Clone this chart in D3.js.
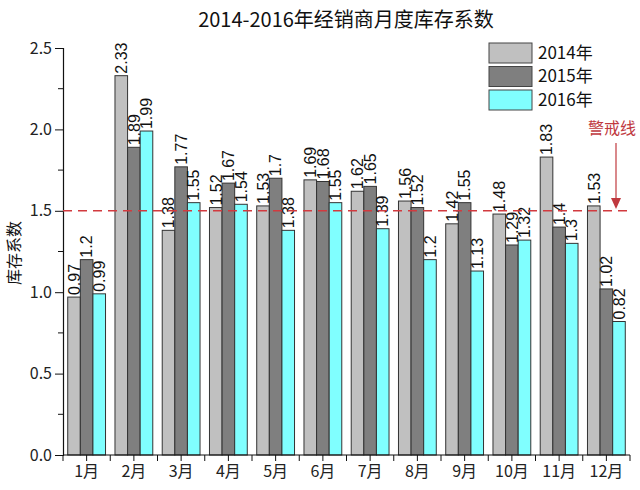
<!DOCTYPE html>
<html><head><meta charset="utf-8">
<script src="https://cdn.jsdelivr.net/npm/d3@7"></script>
<style>body{margin:0;background:#fff}svg{display:block}</style>
</head><body>
<script>
const months = ["1月","2月","3月","4月","5月","6月","7月","8月","9月","10月","11月","12月"];
const seriesNames = ["2014年","2015年","2016年"];
const v2014 = [0.97,2.33,1.38,1.52,1.53,1.69,1.62,1.56,1.42,1.48,1.83,1.53];
const v2015 = [1.2,1.89,1.77,1.67,1.7,1.68,1.65,1.52,1.55,1.29,1.4,1.02];
const v2016 = [0.99,1.99,1.55,1.54,1.38,1.55,1.39,1.2,1.13,1.32,1.3,0.82];
const yTicks = [0,0.5,1.0,1.5,2.0,2.5];
const warnValue = 1.5;
const colors = ["#c0c0c0","#7f7f7f","#80ffff"];

const W=640,H=490;
const svg=d3.select("body").append("svg").attr("width",W).attr("height",H);
const fontCJK='"Noto Sans CJK SC","DejaVu Sans",sans-serif';
const fontNum='"Liberation Sans","DejaVu Sans",sans-serif';

const x=d3.scaleBand().domain(months).range([63,630]).paddingInner(0.2).paddingOuter(0.1);
const xs=d3.scaleBand().domain(seriesNames).range([0,x.bandwidth()]);
const y=d3.scaleLinear().domain([0,2.5]).range([455,48]);

const data=[v2014,v2015,v2016];

// title
svg.append("text").attr("x",346).attr("y",27).attr("text-anchor","middle")
  .attr("font-family",fontCJK).attr("font-size",20).attr("fill","#111")
  .text("2014-2016年经销商月度库存系数");

// y axis
const yAxis=svg.append("g").attr("transform","translate(63,0)")
  .call(d3.axisLeft(y).tickValues(yTicks).tickFormat(d3.format(".1f")).tickSize(8).tickPadding(3));
yAxis.selectAll("text").attr("font-family",fontCJK).attr("font-size",16).attr("fill","#222");
yAxis.select(".domain").attr("stroke","#111").attr("stroke-width",1.2);
yAxis.selectAll(".tick line").attr("stroke","#111");
// minor y ticks
const minorY=d3.range(0.25,2.5,0.5);
svg.append("g").selectAll("line").data(minorY).join("line")
  .attr("x1",58).attr("x2",63).attr("y1",d=>y(d)).attr("y2",d=>y(d)).attr("stroke","#111");

// y label
svg.append("text").attr("transform","translate(20,253) rotate(-90)").attr("text-anchor","middle")
  .attr("font-family",fontCJK).attr("font-size",16).attr("fill","#111").text("库存系数");

// bars
const groups=svg.append("g").selectAll("g").data(months).join("g")
  .attr("transform",d=>`translate(${x(d)},0)`);
groups.each(function(m,i){
  const g=d3.select(this);
  seriesNames.forEach((s,k)=>{
    const v=data[k][i];
    g.append("rect").attr("x",xs(s)).attr("y",y(v)).attr("width",xs.bandwidth())
      .attr("height",y(0)-y(v)).attr("fill",colors[k]).attr("stroke","#333").attr("stroke-width",1);
  });
});

// warning line
svg.append("line").attr("x1",63).attr("x2",630).attr("y1",y(warnValue)).attr("y2",y(warnValue))
  .attr("stroke","#d23a3f").attr("stroke-width",1.6).attr("stroke-dasharray","9,6");

// labels
groups.each(function(m,i){
  const g=d3.select(this);
  seriesNames.forEach((s,k)=>{
    const v=data[k][i];
    const cx=xs(s)+xs.bandwidth()/2;
    g.append("text").attr("transform",`translate(${cx},${y(v)-2}) rotate(-90)`)
      .attr("dy","0.36em").attr("text-anchor","start")
      .attr("font-family",fontNum).attr("font-size",16).attr("fill","#111").text(String(v));
  });
});

// x axis
const xAxis=svg.append("g").attr("transform","translate(0,455)")
  .call(d3.axisBottom(x).tickSize(6).tickPadding(5));
xAxis.selectAll("text").attr("font-family",fontCJK).attr("font-size",16).attr("fill","#222");
xAxis.select(".domain").attr("d","M63,0H630").attr("stroke","#111").attr("stroke-width",1.2);
xAxis.selectAll(".tick line").attr("stroke","#111");
const bounds=months.map(m=>x(m)-x.step()*x.paddingInner()/2).concat([630]);
svg.append("g").selectAll("line").data(bounds).join("line")
  .attr("x1",d=>d).attr("x2",d=>d).attr("y1",455).attr("y2",461).attr("stroke","#111");

// legend
const lg=svg.append("g");
seriesNames.forEach((s,k)=>{
  lg.append("rect").attr("x",489).attr("y",43+k*23.5).attr("width",43).attr("height",20)
    .attr("fill",colors[k]).attr("stroke","#444").attr("stroke-width",1);
  lg.append("text").attr("x",538).attr("y",53+k*23.5).attr("dy","0.35em")
    .attr("font-family",fontCJK).attr("font-size",17).attr("fill","#111").text(s);
});

// warning annotation
svg.append("text").attr("x",612).attr("y",128).attr("dy","0.35em").attr("text-anchor","middle")
  .attr("font-family",fontCJK).attr("font-size",16).attr("fill","#c0393f").text("警戒线");
svg.append("line").attr("x1",616).attr("x2",616).attr("y1",143).attr("y2",200)
  .attr("stroke","#c0393f").attr("stroke-width",1.2);
svg.append("path").attr("d","M611,198L616,209L621,198Z").attr("fill","#c0393f");
</script>
</body></html>
